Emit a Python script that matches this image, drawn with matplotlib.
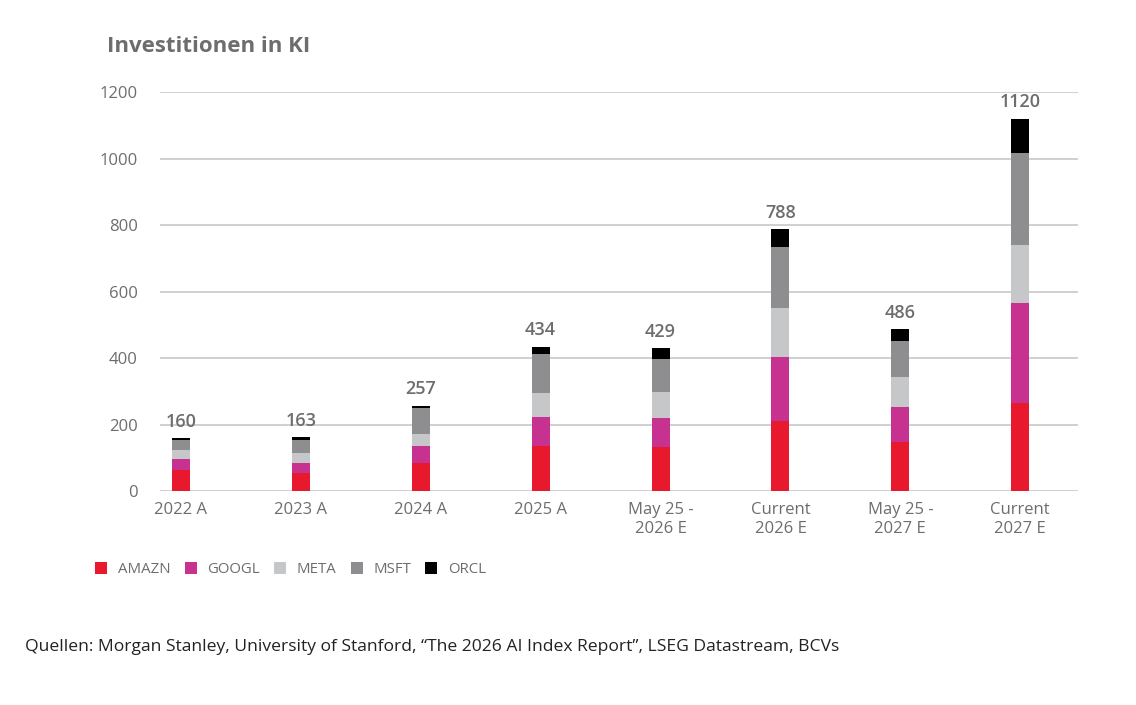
import matplotlib
matplotlib.use('Agg')
import matplotlib.pyplot as plt
from matplotlib.patches import Patch
import numpy as np

plt.rcParams['font.family'] = ['Open Sans', 'DejaVu Sans']

# Data
categories = ['2022 A', '2023 A', '2024 A', '2025 A',
              'May 25 -\n2026 E', 'Current\n2026 E', 'May 25 -\n2027 E', 'Current\n2027 E']
amazn = [63, 55, 83, 134, 131, 212, 147, 266]
googl = [32, 29, 51, 90, 89, 190, 105, 299]
meta = [29, 29, 37, 70, 78, 147, 90, 176]
msft = [29, 40, 79, 119, 100, 186, 110, 275]
orcl = [7, 10, 7, 21, 31, 53, 34, 104]
totals = [160, 163, 257, 434, 429, 788, 486, 1120]

series = ['AMAZN', 'GOOGL', 'META', 'MSFT', 'ORCL']
colors = ['#e8192c', '#c7318f', '#c6c7c8', '#8e8e90', '#000000']

grey = '#6d6d6d'

fig = plt.figure(figsize=(11.36, 7.05), dpi=100)
ax = fig.add_axes([0.1408, 0.3035, 0.808, 0.566])

x = np.arange(len(categories))
bottom = np.zeros(len(categories))
for name, vals, c in zip(series, [amazn, googl, meta, msft, orcl], colors):
    ax.bar(x, vals, 0.15, bottom=bottom, color=c, label=name, zorder=3)
    bottom += np.array(vals)

for xi, top, t in zip(x, bottom, totals):
    ax.text(xi, top + 22, str(t), ha='center', va='bottom', fontsize=13,
            fontweight='semibold', color=grey)

ax.set_ylim(0, 1200)
ax.set_xlim(-0.175, 7.48)
ax.set_yticks(range(0, 1201, 200))
ax.set_xticks(x)
ax.set_xticklabels(categories)
ax.grid(axis='y', color='#c8c8c8', linewidth=1.2, zorder=0)
for s in ax.spines.values():
    s.set_visible(False)
ax.tick_params(axis='both', length=0, labelsize=12, labelcolor=grey)
ax.tick_params(axis='y', pad=16)
ax.tick_params(axis='x', pad=8)

fig.text(0.094, 0.926, 'Investitionen in KI', fontsize=16, fontweight='bold', color=grey)

handles = [Patch(facecolor=c, label=n) for n, c in zip(series, colors)]
fig.legend(handles=handles, loc='center left', bbox_to_anchor=(0.072, 0.192), ncol=5,
           frameon=False, fontsize=10.8, handlelength=0.8, handleheight=0.8,
           handletextpad=0.7, columnspacing=0.95, labelcolor=grey)

fig.text(0.022, 0.082, 'Quellen: Morgan Stanley, University of Stanford, \u201cThe 2026 AI Index Report\u201d, LSEG Datastream, BCVs',
         fontsize=12.6, color='#222222', va='center')

fig.savefig('out.png', dpi=100)
